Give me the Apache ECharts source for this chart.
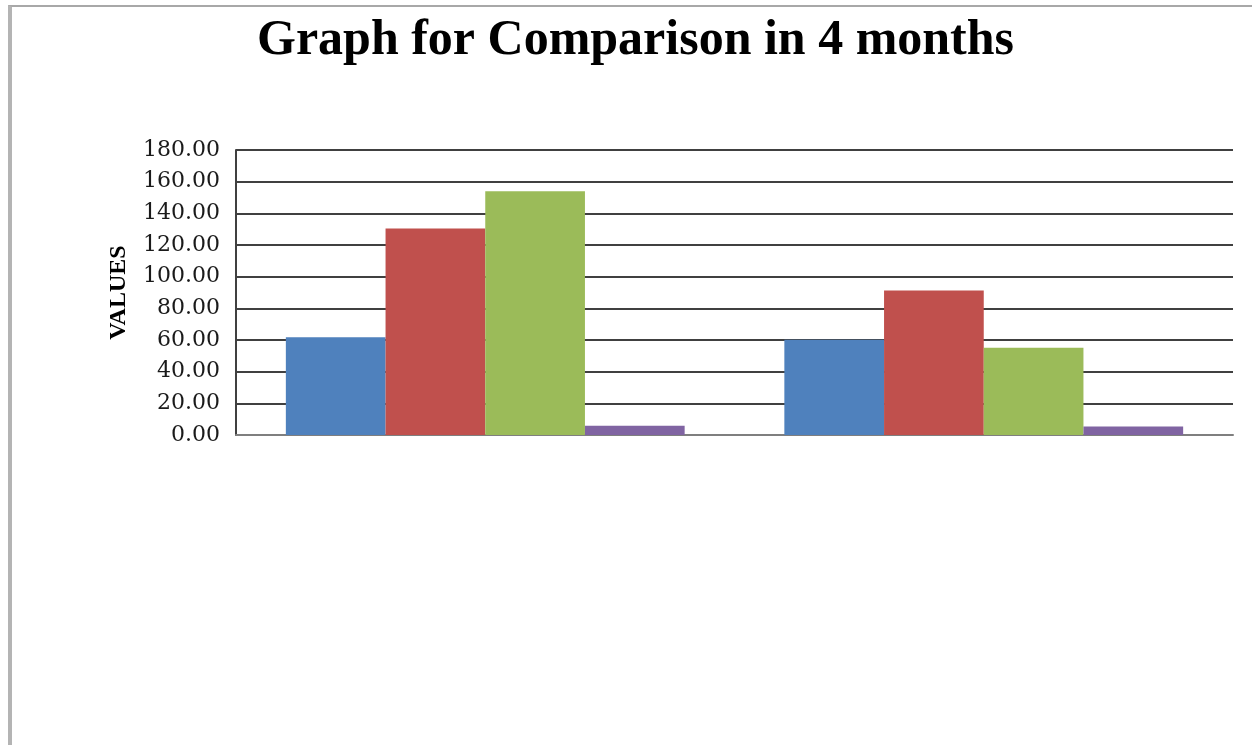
<!DOCTYPE html>
<html>
<head>
<meta charset="utf-8">
<script src="https://cdn.jsdelivr.net/npm/echarts@6/dist/echarts.min.js"></script>
<style>
html,body{margin:0;padding:0;background:#fff;}
#wrap{position:relative;width:1252px;height:745px;overflow:hidden;}
#chart{position:absolute;left:0;top:0;width:1252px;height:745px;}
#frame{position:absolute;left:8px;top:5px;width:1260px;height:760px;border-left:4px solid #b4b4b4;border-top:2px solid #a8a8a8;pointer-events:none;}
</style>
</head>
<body>
<div id="wrap"><div id="chart"></div><div id="frame"></div></div>
<script>
var titleText = 'Graph for Comparison in 4 months';
var categories = ['Group 1', 'Group 2'];
var seriesNames = ['Month 1', 'Month 2', 'Month 3', 'Month 4'];
var month1 = [61.8, 60.1];
var month2 = [130.5, 91.2];
var month3 = [154.0, 55.1];
var month4 = [5.9, 5.4];
var yTicks = [0, 20, 40, 60, 80, 100, 120, 140, 160, 180];
var colors = ['#4F81BD', '#C0504D', '#9BBB59', '#8064A2'];

var chart = echarts.init(document.getElementById('chart'));
var dataSets = [month1, month2, month3, month4];
chart.setOption({
  animation: false,
  title: {
    text: titleText,
    left: 252,
    top: 11,
    padding: 5,
    textStyle: {fontFamily: 'Liberation Serif', fontWeight: 'bold', fontSize: 50, color: '#000'}
  },
  grid: {left: 236, right: 19, top: 150, bottom: 310},
  xAxis: {
    type: 'category',
    data: categories,
    axisLine: {lineStyle: {color: '#7f7f7f', width: 2}},
    axisTick: {show: false},
    axisLabel: {show: false}
  },
  yAxis: {
    type: 'value',
    min: yTicks[0],
    max: yTicks[yTicks.length - 1],
    interval: yTicks[1] - yTicks[0],
    name: 'VALUES',
    nameLocation: 'middle',
    nameGap: 105,
    nameTextStyle: {fontFamily: 'Liberation Serif', fontWeight: 'bold', fontSize: 24, color: '#000'},
    axisLine: {show: true, lineStyle: {color: '#404040', width: 2}},
    axisTick: {show: false},
    axisLabel: {
      fontFamily: 'DejaVu Serif', fontSize: 22, color: '#1a1a1a', margin: 16,
      formatter: function (v) { return v.toFixed(2); }
    },
    splitLine: {lineStyle: {color: '#404040', width: 2}}
  },
  series: dataSets.map(function (d, i) {
    return {
      name: seriesNames[i],
      type: 'bar',
      data: d,
      barGap: '0%',
      barCategoryGap: '20%',
      itemStyle: {color: colors[i]}
    };
  })
});
</script>
</body>
</html>
